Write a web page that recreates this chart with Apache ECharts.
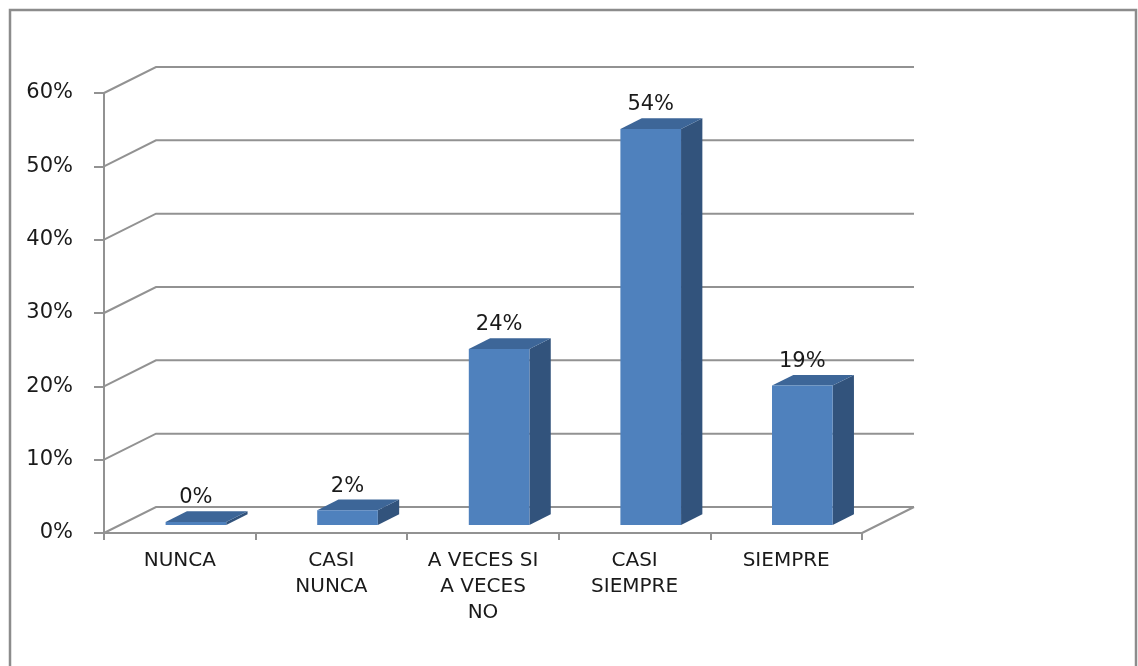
<!DOCTYPE html>
<html>
<head>
<meta charset="utf-8">
<style>
  html, body { margin: 0; padding: 0; background: #ffffff; }
  #chart { width: 1138px; height: 666px; }
</style>
<script src="https://cdn.jsdelivr.net/npm/echarts@6/dist/echarts.min.js"></script>
</head>
<body>
<div id="chart"></div>
<script>
// Survey answer categories and their share of responses
const categories = ['NUNCA', 'CASI\nNUNCA', 'A VECES SI\nA VECES\nNO', 'CASI\nSIEMPRE', 'SIEMPRE'];
const shares = [0, 0.02, 0.24, 0.54, 0.19];
// Value-axis ticks (also used for the gridlines on the back wall)
const yTicks = [0, 0.1, 0.2, 0.3, 0.4, 0.5, 0.6];

// Oblique projection of the depth axis, in pixels
const DEPTH_X = 52;
const DEPTH_Y = 26;
// Where the bar sits inside the depth (fraction of full depth)
const BAR_FRONT = 0.31;
const BAR_DEPTH = 0.41;
const BAR_WIDTH = 0.4; // fraction of category band

const FONT = 'DejaVu Sans';
const GRID_COLOR = '#929292';

const chart = echarts.init(document.getElementById('chart'));

function pct(v) { return Math.round(v * 100) + '%'; }

chart.setOption({
  animation: false,
  backgroundColor: '#ffffff',
  graphic: [{
    type: 'rect',
    shape: { x: 10, y: 10, width: 1126, height: 700 },
    style: { fill: 'none', stroke: '#8c8c8c', lineWidth: 2.5 },
    z: 0
  }],
  grid: { left: 104, right: 276, top: 93, bottom: 133 },
  xAxis: {
    type: 'category',
    data: categories,
    boundaryGap: true,
    axisLine: { show: true, lineStyle: { color: GRID_COLOR, width: 2 } },
    axisTick: { show: true, length: 7, alignWithLabel: false, lineStyle: { color: GRID_COLOR, width: 2 } },
    axisLabel: {
      interval: 0,
      margin: 15,
      color: '#1a1a1a',
      fontFamily: FONT,
      fontSize: 20,
      lineHeight: 26,
      align: 'center'
    },
    splitLine: { show: false }
  },
  yAxis: {
    type: 'value',
    min: 0,
    max: 0.6,
    interval: 0.1,
    axisLine: { show: true, lineStyle: { color: GRID_COLOR, width: 2 } },
    axisTick: { show: true, length: 10, lineStyle: { color: GRID_COLOR, width: 2 } },
    axisLabel: {
      margin: 31,
      color: '#1a1a1a',
      fontFamily: FONT,
      fontSize: 21,
      formatter: function (v) { return pct(v); }
    },
    splitLine: { show: false }
  },
  series: [
    {
      // Back wall gridlines and the floor outline
      type: 'custom',
      coordinateSystem: 'cartesian2d',
      clip: false,
      silent: true,
      z: 1,
      data: yTicks.map(function (v) { return [0, v]; }),
      encode: { x: 0, y: 1 },
      renderItem: function (params, api) {
        const cs = params.coordSys;
        const y = api.coord([0, api.value(1)])[1];
        const left = cs.x;
        const right = cs.x + cs.width;
        const children = [{
          type: 'polyline',
          shape: { points: [[left, y], [left + DEPTH_X, y - DEPTH_Y], [right + DEPTH_X, y - DEPTH_Y]] },
          style: { stroke: GRID_COLOR, lineWidth: 2, fill: 'none' }
        }];
        if (api.value(1) === 0) {
          children.push({
            type: 'line',
            shape: { x1: right, y1: y, x2: right + DEPTH_X, y2: y - DEPTH_Y },
            style: { stroke: GRID_COLOR, lineWidth: 2 }
          });
        }
        return { type: 'group', children: children };
      }
    },
    {
      // 3D columns: front, top and side faces plus value label
      type: 'custom',
      coordinateSystem: 'cartesian2d',
      clip: false,
      z: 3,
      data: shares.map(function (v, i) { return [i, v]; }),
      encode: { x: 0, y: 1 },
      renderItem: function (params, api) {
        const idx = api.value(0);
        const val = api.value(1);
        const base = api.coord([idx, 0]);
        const topPt = api.coord([idx, val]);
        const band = api.size([1, 0])[0];
        const w = band * BAR_WIDTH;
        const fx = DEPTH_X * BAR_FRONT, fy = DEPTH_Y * BAR_FRONT;
        const dx = DEPTH_X * BAR_DEPTH, dy = DEPTH_Y * BAR_DEPTH;
        const x0 = base[0] - w / 2 + fx;
        const x1 = x0 + w;
        const yb = base[1] - fy;
        let yt = topPt[1] - fy;
        if (yb - yt < 3) yt = yb - 3;
        return {
          type: 'group',
          children: [
            {
              type: 'polygon',
              shape: { points: [[x1, yb], [x1 + dx, yb - dy], [x1 + dx, yt - dy], [x1, yt]] },
              style: { fill: '#32537c' }
            },
            {
              type: 'polygon',
              shape: { points: [[x0, yt], [x1, yt], [x1 + dx, yt - dy], [x0 + dx, yt - dy]] },
              style: { fill: '#3d6698' }
            },
            {
              type: 'rect',
              shape: { x: x0, y: yt, width: w, height: yb - yt },
              style: { fill: '#4f81bd' }
            },
            {
              type: 'text',
              style: {
                text: pct(val),
                x: (x0 + x1) / 2,
                y: yt - dy - 3,
                align: 'center',
                verticalAlign: 'bottom',
                fill: '#1a1a1a',
                font: '21px "' + FONT + '"'
              }
            }
          ]
        };
      }
    }
  ]
});
</script>
</body>
</html>
